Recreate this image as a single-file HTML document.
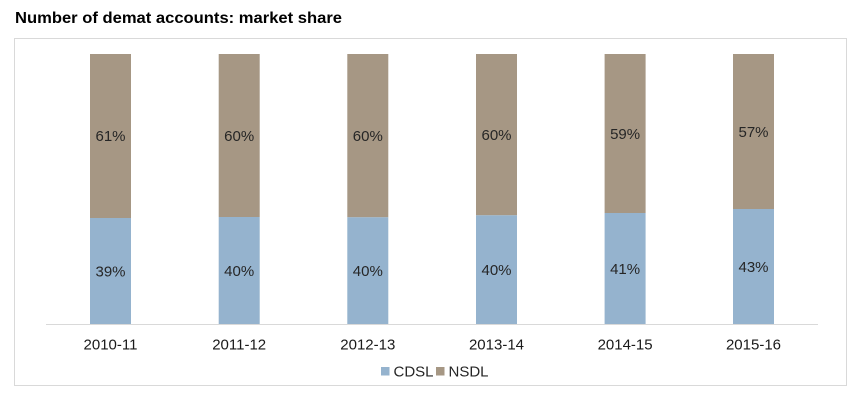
<!DOCTYPE html>
<html><head><meta charset="utf-8"><style>
html,body{margin:0;padding:0;background:#fff;}
svg{display:block;}
text{font-family:"Liberation Sans",sans-serif;}
</style></head><body>
<svg width="858" height="400" viewBox="0 0 858 400" xmlns="http://www.w3.org/2000/svg">
<rect x="0" y="0" width="858" height="400" fill="#fff"/>
<text x="15" y="23" font-size="16" font-weight="bold" fill="#000" textLength="327" lengthAdjust="spacingAndGlyphs">Number of demat accounts: market share</text>
<rect x="14.5" y="38.5" width="832" height="347" fill="#fff" stroke="#d9d9d9" stroke-width="1"/>
<g font-size="15" fill="#262626" text-anchor="middle">
<!-- bar 1 -->
<rect x="90" y="54" width="41" height="164" fill="#a69784"/>
<rect x="90" y="218" width="41" height="106.5" fill="#95b3ce"/>
<text x="110.5" y="141">61%</text><text x="110.5" y="276.5">39%</text>
<!-- bar 2 -->
<rect x="218.7" y="54" width="41" height="163" fill="#a69784"/>
<rect x="218.7" y="217" width="41" height="107.5" fill="#95b3ce"/>
<text x="239.2" y="141">60%</text><text x="239.2" y="276">40%</text>
<!-- bar 3 -->
<rect x="347.3" y="54" width="41" height="163.3" fill="#a69784"/>
<rect x="347.3" y="217.3" width="41" height="107.2" fill="#95b3ce"/>
<text x="367.8" y="141">60%</text><text x="367.8" y="276">40%</text>
<!-- bar 4 -->
<rect x="476" y="54" width="41" height="161.3" fill="#a69784"/>
<rect x="476" y="215.3" width="41" height="109.2" fill="#95b3ce"/>
<text x="496.5" y="140">60%</text><text x="496.5" y="275">40%</text>
<!-- bar 5 -->
<rect x="604.6" y="54" width="41" height="159" fill="#a69784"/>
<rect x="604.6" y="213" width="41" height="111.5" fill="#95b3ce"/>
<text x="625.1" y="139">59%</text><text x="625.1" y="274">41%</text>
<!-- bar 6 -->
<rect x="733" y="54" width="41" height="155" fill="#a69784"/>
<rect x="733" y="209" width="41" height="115.5" fill="#95b3ce"/>
<text x="753.5" y="137">57%</text><text x="753.5" y="272">43%</text>
</g>
<line x1="46" y1="324.5" x2="818" y2="324.5" stroke="#d9d9d9" stroke-width="1"/>
<g font-size="15" fill="#1a1a1a" text-anchor="middle">
<text x="110.5" y="349.5">2010-11</text>
<text x="239.2" y="349.5">2011-12</text>
<text x="367.8" y="349.5">2012-13</text>
<text x="496.5" y="349.5">2013-14</text>
<text x="625.1" y="349.5">2014-15</text>
<text x="753.5" y="349.5">2015-16</text>
</g>
<rect x="381" y="367" width="8.5" height="8.5" fill="#95b3ce"/>
<text x="393.5" y="376.5" font-size="15" fill="#262626">CDSL</text>
<rect x="436" y="367" width="8.5" height="8.5" fill="#a69784"/>
<text x="448.5" y="376.5" font-size="15" fill="#262626">NSDL</text>
</svg>
</body></html>
